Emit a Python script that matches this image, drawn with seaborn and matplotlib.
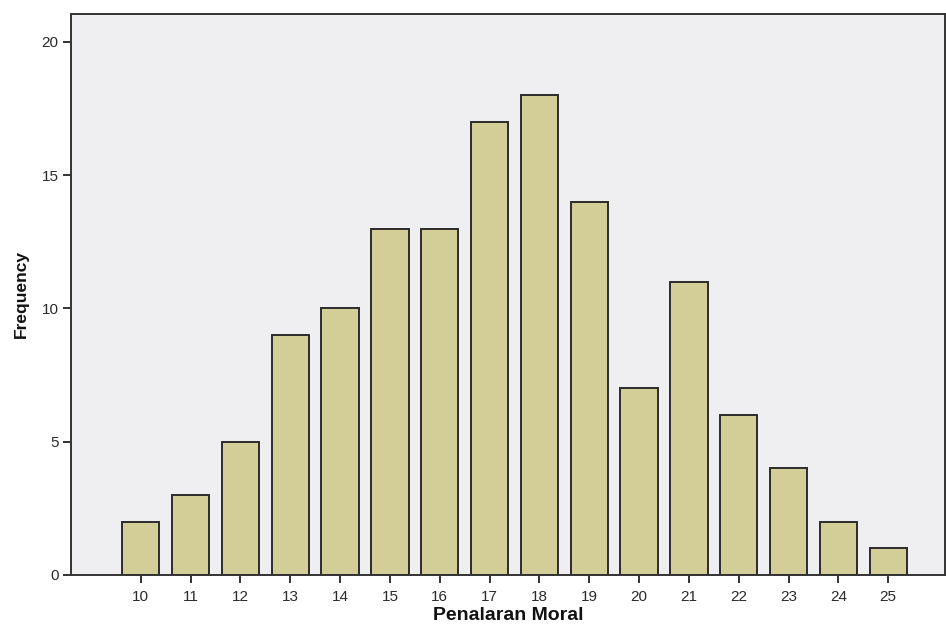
import matplotlib
matplotlib.use("Agg")
import matplotlib.pyplot as plt
import seaborn as sns
import pandas as pd

categories = [10, 11, 12, 13, 14, 15, 16, 17, 18, 19, 20, 21, 22, 23, 24, 25]
frequency = [2, 3, 5, 9, 10, 13, 13, 17, 18, 14, 7, 11, 6, 4, 2, 1]
y_ticks = [0, 5, 10, 15, 20]

sns.set_theme(style="white")
plt.rcParams['font.family'] = ['Liberation Sans', 'DejaVu Sans']

df = pd.DataFrame({"Penalaran Moral": [str(c) for c in categories], "Frequency": frequency})

fig = plt.figure(figsize=(9.46, 6.39), dpi=100)
ax = fig.add_axes([71/946, 64/639, 874/946, (575-14)/639])
ax.set_facecolor("#EFEFF1")

sns.barplot(data=df, x="Penalaran Moral", y="Frequency", ax=ax, color="#D3CE97",
            saturation=1, width=0.75, edgecolor="#2b2b2b", linewidth=1.4)

ax.set_xlim(-1.4, 16.14)
ax.set_ylim(0, 21.05)
ax.set_yticks(y_ticks)
ax.set_yticklabels([str(v) for v in y_ticks])

for s in ["left", "top", "bottom", "right"]:
    ax.spines[s].set_color("#333333")
    ax.spines[s].set_linewidth(1.4)
ax.tick_params(axis="both", which="both", direction="out", length=6, width=1.4,
               color="#333333", labelsize=11, labelcolor="#2a2a2a")
ax.tick_params(axis="x", pad=5)
ax.tick_params(axis="y", pad=3)
ax.tick_params(left=True, bottom=True)

ax.set_xlabel("Penalaran Moral", fontsize=14, fontweight="bold", color="#111111", labelpad=2)
ax.set_ylabel("Frequency", fontsize=12.5, fontweight="bold", color="#111111", labelpad=9)

fig.savefig("out.png", dpi=100)
